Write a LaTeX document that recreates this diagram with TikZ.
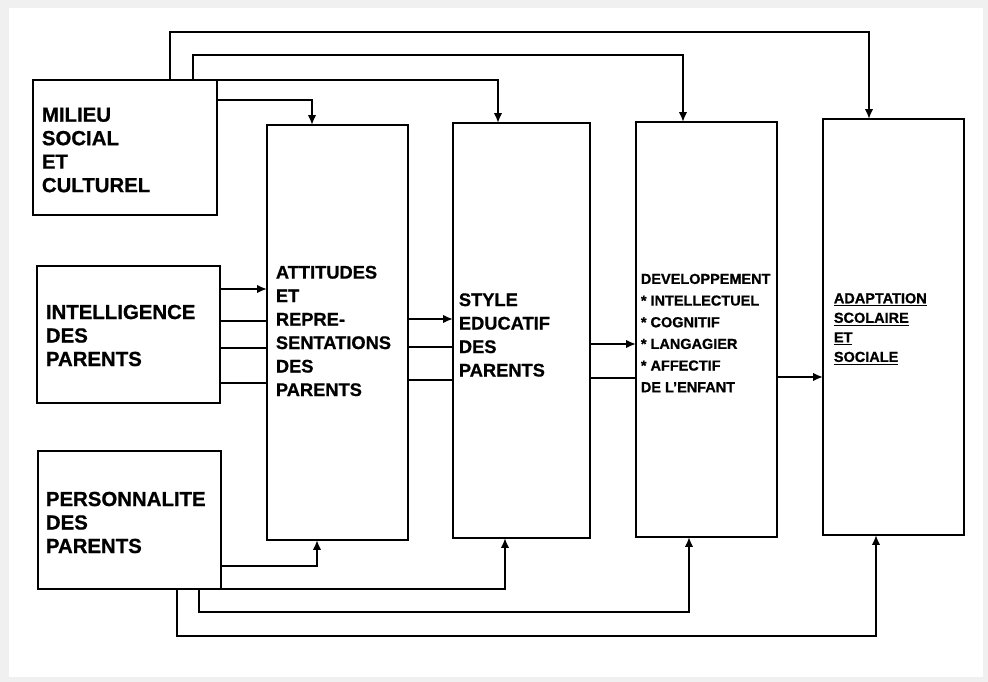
\documentclass[tikz,border=0pt]{standalone}
\usepackage{fontspec}
\setmainfont{Liberation Sans}[BoldFeatures={FakeBold=0.8}]
\usepackage{tikz}
\usetikzlibrary{arrows.meta}

\begin{document}
\begin{tikzpicture}[x=0.025cm, y=-0.025cm, line width=1.3pt,
  box/.style={draw, inner sep=0pt, outer sep=0pt},
  lbl/.style={align=left, anchor=west, inner sep=0pt, font=\bfseries\fontsize{14.5}{16.7}\selectfont},
  midlbl/.style={lbl, font=\bfseries\fontsize{13}{16.7}\selectfont},
  smalllbl/.style={lbl, font=\bfseries\fontsize{10.3}{15.4}\selectfont},
  arr/.style={-{Latex[length=7pt,width=6pt]}}]
\useasboundingbox (0,0) rectangle (988,682);
\fill[black!6] (0,0) rectangle (988,682);
\fill[white] (9,8) rectangle (983,677);

\node[box, minimum width=4.6cm, minimum height=3.375cm] (milieu) at (125,147.5) {};
\node[box, minimum width=4.575cm, minimum height=3.425cm] (intel) at (128.5,334.5) {};
\node[box, minimum width=4.575cm, minimum height=3.45cm] (perso) at (129.5,520) {};
\node[box, minimum width=3.525cm, minimum height=10.375cm] (attit) at (337.5,332.5) {};
\node[box, minimum width=3.425cm, minimum height=10.375cm] (style) at (521.5,330.5) {};
\node[box, minimum width=3.525cm, minimum height=10.375cm] (dev) at (706.5,329.5) {};
\node[box, minimum width=3.525cm, minimum height=10.4cm] (adapt) at (893.5,327) {};

\node[lbl] (milieutxt) at (41,150) {MILIEU\\SOCIAL\\ET\\CULTUREL};
\node[lbl] (inteltxt) at (45,335.5) {INTELLIGENCE\\DES\\PARENTS};
\node[lbl] (persotxt) at (45,522.5) {PERSONNALITE\\DES\\PARENTS};
\node[midlbl] (attittxt) at (275,331) {ATTITUDES\\ET\\REPRE-\\SENTATIONS\\DES\\PARENTS};
\node[midlbl] (styletxt) at (458,335) {STYLE\\EDUCATIF\\DES\\PARENTS};
\node[smalllbl] (devtxt) at (640,333) {DEVELOPPEMENT\\* INTELLECTUEL\\* COGNITIF\\* LANGAGIER\\* AFFECTIF\\DE L'ENFANT};
\node[smalllbl, font=\bfseries\fontsize{10.3}{13.9}\selectfont] (adapttxt) at (833,329)
  {\underline{ADAPTATION}\\\underline{SCOLAIRE}\\\underline{ET}\\\underline{SOCIALE}};

\draw[arr] (milieu.north -| 170,0) |- (869,32) -- (adapt.north -| 869,0);
\draw[arr] (milieu.north -| 193,0) |- (683,55) -- (dev.north -| 683,0);
\draw[arr] (milieu.north east) -| (style.north -| 498,0);
\draw[arr] (milieu.east |- 0,100) -| (attit.north -| 312,0);

\draw[arr] (perso.east |- 0,566) -| (attit.south -| 317,0);
\draw[arr] (perso.south east) -| (style.south -| 505,0);
\draw[arr] (perso.south -| 199,0) |- (689,612) -- (dev.south -| 689,0);
\draw[arr] (perso.south -| 177,0) |- (876,636) -- (adapt.south -| 876,0);

\draw[arr] (intel.east |- 0,289) -- (attit.west |- 0,289);
\foreach \y in {321,348,383}
  \draw (intel.east |- 0,\y) -- (attit.west |- 0,\y);
\draw[arr] (attit.east |- 0,319) -- (style.west |- 0,319);
\foreach \y in {347,380}
  \draw (attit.east |- 0,\y) -- (style.west |- 0,\y);
\draw[arr] (style.east |- 0,344) -- (dev.west |- 0,344);
\draw (style.east |- 0,378) -- (dev.west |- 0,378);
\draw[arr] (dev.east |- 0,377) -- (adapt.west |- 0,377);
\end{tikzpicture}
\end{document}
